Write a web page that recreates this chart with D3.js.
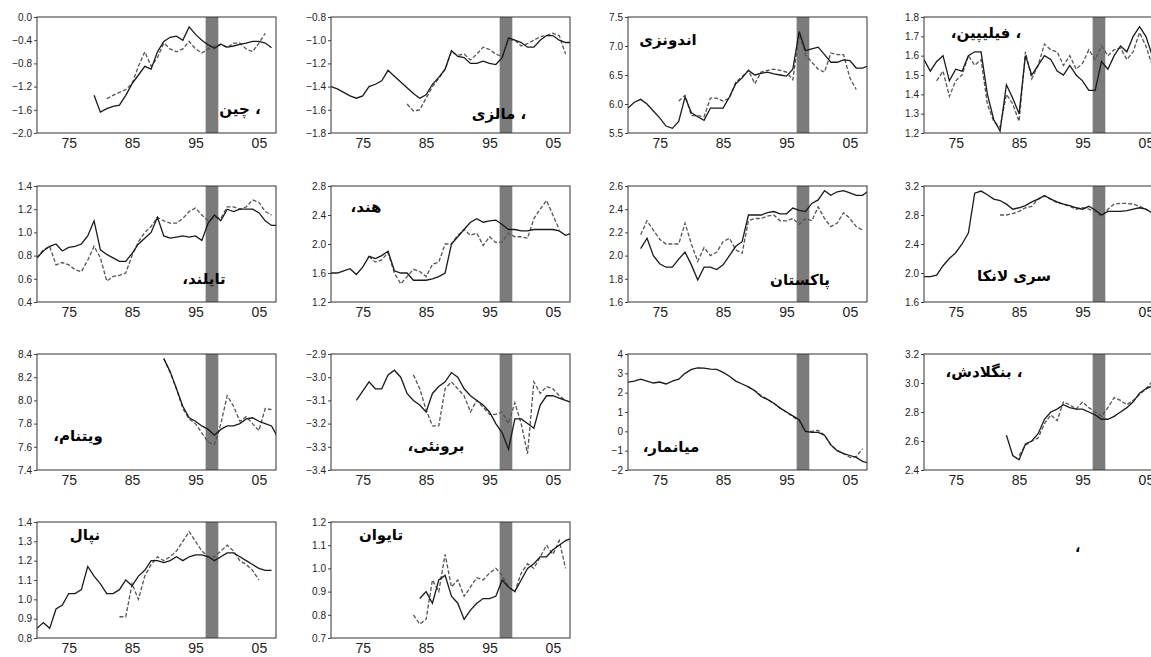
<!DOCTYPE html>
<html>
<head>
<meta charset="utf-8">
<script src="https://cdn.jsdelivr.net/npm/d3@7"></script>
<style>
  body { margin: 0; background: #fff; }
  svg { display: block; }
</style>
</head>
<body>
<svg id="chart" width="1151" height="657"></svg>
<script>
// country labels (as printed in the figure)
const labels = [
  '، چین', '، مالزی', 'اندونزی', '، فیلیپین،',
  'تایلند،', 'هند،', 'پاکستان', 'سری لانکا',
  'ویتنام،', 'برونئی،', 'میانمار،', '، بنگلادش،',
  'نپال', 'تایوان'];

const yDomains = [
  [-2.0, 0.0], [-1.8, -0.8], [5.5, 7.5], [1.2, 1.8],
  [0.4, 1.4], [1.2, 2.8], [1.6, 2.6], [1.6, 3.2],
  [7.4, 8.4], [-3.4, -2.9], [-2, 4], [2.4, 3.2],
  [0.8, 1.4], [0.7, 1.2]];
const yStep = [0.4, 0.2, 0.5, 0.1, 0.2, 0.4, 0.2, 0.4, 0.2, 0.1, 1, 0.2, 0.1, 0.1];
const yFormat = ['.1f', '.1f', '.1f', '.1f', '.1f', '.1f', '.1f', '.1f', '.1f', '.1f', 'd', '.1f', '.1f', '.1f'];

const xTicks = [1975, 1985, 1995, 2005];
const crisis = [1996.6, 1998.6];

// first year of each series
const solidStart = [1979, 1970, 1970, 1970, 1970, 1970, 1972, 1970, 1990, 1974, 1970, 1983, 1970, 1984];
const dashedStart = [1981, 1982, 1978, 1972, 1970, 1976, 1972, 1982, 1990, 1983, 1989, 1985, 1983, 1983];

const chinaSolid = [-1.35, -1.64, -1.58, -1.54, -1.52, -1.35, -1.15, -1.0, -0.85, -0.9, -0.6, -0.42, -0.35, -0.33,
  -0.4, -0.17, -0.3, -0.4, -0.48, -0.54, -0.47, -0.52, -0.5, -0.47, -0.45, -0.42, -0.42, -0.45, -0.53];
const chinaDashed = [-1.41, -1.35, -1.3, -1.25, -1.15, -0.85, -0.6, -0.85, -0.7, -0.45, -0.55, -0.6, -0.55, -0.42,
  -0.55, -0.62, -0.55, -0.5, -0.47, -0.53, -0.45, -0.45, -0.55, -0.6, -0.45, -0.28];

const malaysiaSolid = [-1.4, -1.42, -1.45, -1.48, -1.5, -1.48, -1.4, -1.38, -1.35, -1.26, -1.31, -1.36, -1.41,
  -1.46, -1.5, -1.47, -1.38, -1.32, -1.25, -1.09, -1.14, -1.15, -1.2, -1.2, -1.18, -1.2, -1.21, -1.15, -0.98,
  -1.0, -1.02, -1.06, -1.06, -1.0, -0.96, -0.96, -1.0, -1.02, -1.02];
const malaysiaDashed = [-1.55, -1.61, -1.6, -1.5, -1.4, -1.33, -1.25, -1.1, -1.13, -1.12, -1.17, -1.12, -1.06,
  -1.08, -1.12, -1.14, -1.0, -1.0, -1.05, -1.03, -1.0, -0.97, -0.96, -0.94, -0.96, -1.12];

const indonesiaSolid = [5.93, 6.03, 6.08, 6.0, 5.88, 5.76, 5.62, 5.58, 5.7, 6.12, 5.85, 5.78, 5.72, 5.93, 5.93,
  5.93, 6.12, 6.35, 6.45, 6.58, 6.5, 6.53, 6.55, 6.52, 6.5, 6.48, 6.6, 7.25, 6.92, 6.95, 6.98, 6.85, 6.72,
  6.72, 6.76, 6.75, 6.62, 6.62, 6.66];
const indonesiaDashed = [6.05, 6.15, 5.8, 5.8, 5.78, 6.1, 6.1, 6.05, 6.1, 6.38, 6.47, 6.58, 6.35, 6.55, 6.58,
  6.6, 6.58, 6.55, 6.42, 7.2, 6.85, 6.72, 6.6, 6.55, 6.88, 6.85, 6.85, 6.45, 6.25];

const philippinesSolid = [1.58, 1.52, 1.57, 1.6, 1.47, 1.53, 1.52, 1.6, 1.62, 1.62, 1.4, 1.27, 1.21, 1.45,
  1.38, 1.3, 1.6, 1.5, 1.55, 1.6, 1.58, 1.52, 1.5, 1.55, 1.5, 1.47, 1.42, 1.42, 1.57, 1.53, 1.6, 1.65, 1.62,
  1.7, 1.75, 1.7, 1.6, 1.52];
const philippinesDashed = [1.47, 1.52, 1.39, 1.47, 1.5, 1.6, 1.55, 1.58, 1.35, 1.26, 1.23, 1.4, 1.35, 1.26,
  1.62, 1.48, 1.55, 1.66, 1.63, 1.62, 1.55, 1.6, 1.53, 1.56, 1.63, 1.58, 1.65, 1.6, 1.63, 1.64, 1.58, 1.62,
  1.72, 1.65, 1.55, 1.52];

const thailandSolid = [0.78, 0.84, 0.88, 0.9, 0.84, 0.87, 0.88, 0.9, 0.97, 1.1, 0.85, 0.81, 0.78, 0.75, 0.75,
  0.82, 0.9, 0.95, 1.0, 1.13, 0.97, 0.95, 0.96, 0.97, 0.96, 0.97, 0.93, 1.08, 1.15, 1.1, 1.2, 1.18, 1.2, 1.2,
  1.2, 1.17, 1.1, 1.06, 1.06];
const thailandDashed = [0.78, 0.85, 0.88, 0.72, 0.74, 0.72, 0.68, 0.66, 0.76, 0.88, 0.78, 0.58, 0.62, 0.63,
  0.65, 0.8, 0.92, 1.0, 1.05, 1.13, 1.1, 1.08, 1.08, 1.12, 1.18, 1.21, 1.15, 1.1, 1.13, 1.12, 1.22, 1.22,
  1.2, 1.22, 1.28, 1.26, 1.18, 1.15];

const indiaSolid = [1.6, 1.6, 1.63, 1.66, 1.58, 1.68, 1.83, 1.8, 1.84, 1.9, 1.63, 1.6, 1.6, 1.5, 1.5, 1.5,
  1.52, 1.55, 1.6, 2.0, 2.1, 2.2, 2.3, 2.35, 2.3, 2.32, 2.33, 2.27, 2.2, 2.2, 2.18, 2.18, 2.2, 2.2, 2.2, 2.2,
  2.18, 2.12, 2.15];
const indiaDashed = [1.83, 1.75, 1.78, 1.88, 1.6, 1.45, 1.55, 1.65, 1.62, 1.55, 1.72, 1.75, 2.0, 2.0, 2.12,
  2.2, 2.12, 2.15, 1.98, 2.1, 2.02, 2.03, 2.15, 2.1, 2.1, 2.08, 2.35, 2.48, 2.6, 2.4, 2.2];

const pakistanSolid = [2.06, 2.15, 2.0, 1.93, 1.9, 1.9, 1.97, 2.03, 1.92, 1.79, 1.9, 1.9, 1.88, 1.92, 2.0,
  2.08, 2.12, 2.35, 2.35, 2.35, 2.37, 2.38, 2.36, 2.36, 2.41, 2.39, 2.38, 2.45, 2.48, 2.56, 2.52, 2.55, 2.56,
  2.54, 2.52, 2.52, 2.56];
const pakistanDashed = [2.18, 2.3, 2.22, 2.14, 2.1, 2.1, 2.1, 2.28, 2.1, 1.95, 2.07, 2.0, 2.03, 2.12, 2.15,
  2.05, 2.02, 2.3, 2.32, 2.32, 2.34, 2.35, 2.3, 2.3, 2.32, 2.27, 2.32, 2.3, 2.42, 2.32, 2.25, 2.28, 2.37,
  2.32, 2.25, 2.22];

const sriLankaSolid = [1.95, 1.95, 1.97, 2.1, 2.2, 2.28, 2.4, 2.55, 3.1, 3.13, 3.08, 3.02, 3.0, 2.95, 2.88,
  2.9, 2.93, 2.98, 3.02, 3.07, 3.02, 2.98, 2.95, 2.93, 2.9, 2.88, 2.92, 2.87, 2.8, 2.85, 2.85, 2.85, 2.86,
  2.88, 2.9, 2.88, 2.83, 2.8];
const sriLankaDashed = [2.8, 2.8, 2.82, 2.85, 2.9, 2.92, 3.02, 3.06, 3.02, 2.97, 2.95, 2.92, 2.88, 2.9, 2.88,
  2.85, 2.78, 2.88, 2.95, 2.96, 2.96, 2.95, 2.92, 2.88, 2.82, 2.8];

const vietnamSolid = [8.36, 8.25, 8.1, 7.95, 7.85, 7.82, 7.78, 7.75, 7.7, 7.75, 7.78, 7.78, 7.8, 7.84, 7.85,
  7.82, 7.8, 7.78, 7.68];
const vietnamDashed = [8.36, 8.24, 8.1, 7.93, 7.84, 7.8, 7.72, 7.64, 7.62, 7.8, 8.04, 7.95, 7.82, 7.86, 7.8,
  7.74, 7.93, 7.92];

const bruneiSolid = [-3.1, -3.06, -3.02, -3.05, -3.05, -2.99, -2.97, -3.0, -3.07, -3.1, -3.12, -3.15, -3.07,
  -3.04, -3.02, -2.98, -3.0, -3.05, -3.08, -3.1, -3.12, -3.15, -3.2, -3.24, -3.31, -3.18, -3.18, -3.2, -3.22,
  -3.12, -3.08, -3.08, -3.09, -3.1, -3.11];
const bruneiDashed = [-2.99, -3.05, -3.14, -3.21, -3.21, -3.05, -3.02, -3.05, -3.08, -3.15, -3.1, -3.13, -3.16,
  -3.16, -3.15, -3.2, -3.11, -3.2, -3.33, -3.02, -3.07, -3.04, -3.05, -3.08, -3.1];

const myanmarSolid = [2.55, 2.6, 2.7, 2.6, 2.5, 2.55, 2.45, 2.6, 2.7, 3.0, 3.2, 3.28, 3.27, 3.22, 3.2, 3.05,
  2.85, 2.6, 2.45, 2.3, 2.1, 1.8, 1.65, 1.45, 1.2, 1.0, 0.8, 0.6, 0.0, -0.05, -0.05, -0.2, -0.7, -1.0, -1.15,
  -1.25, -1.35, -1.55, -1.65];
const myanmarDashed = [2.3, 2.1, 1.85, 1.65, 1.45, 1.2, 1.0, 0.75, 0.55, 0.0, 0.0, 0.05, -0.2, -0.7, -1.0,
  -1.15, -1.35, -1.3, -0.9];

const bangladeshSolid = [2.64, 2.5, 2.47, 2.58, 2.6, 2.65, 2.75, 2.8, 2.82, 2.85, 2.83, 2.82, 2.82, 2.8, 2.78,
  2.75, 2.75, 2.77, 2.8, 2.83, 2.87, 2.93, 2.96, 2.98, 3.0];
const bangladeshDashed = [2.5, 2.57, 2.6, 2.62, 2.72, 2.78, 2.74, 2.87, 2.85, 2.82, 2.87, 2.83, 2.8, 2.77,
  2.83, 2.9, 2.88, 2.85, 2.88, 2.92, 2.96, 3.01, 2.96];

const nepalSolid = [0.85, 0.88, 0.85, 0.95, 0.97, 1.03, 1.03, 1.05, 1.17, 1.12, 1.08, 1.03, 1.03, 1.05, 1.1,
  1.07, 1.12, 1.15, 1.2, 1.2, 1.19, 1.2, 1.22, 1.2, 1.22, 1.23, 1.23, 1.22, 1.2, 1.22, 1.24, 1.24, 1.22, 1.2,
  1.18, 1.16, 1.15, 1.15];
const nepalDashed = [0.91, 0.91, 1.08, 1.0, 1.12, 1.18, 1.22, 1.2, 1.22, 1.25, 1.3, 1.35, 1.3, 1.25, 1.22,
  1.22, 1.25, 1.28, 1.25, 1.2, 1.18, 1.15, 1.1];

const taiwanSolid = [0.87, 0.9, 0.85, 0.95, 0.97, 0.88, 0.85, 0.78, 0.82, 0.85, 0.87, 0.87, 0.88, 0.95, 0.92,
  0.9, 0.95, 1.0, 1.02, 1.05, 1.05, 1.08, 1.1, 1.12, 1.13];
const taiwanDashed = [0.8, 0.76, 0.78, 0.95, 0.9, 1.06, 0.92, 0.95, 0.88, 0.92, 0.96, 0.95, 0.98, 1.0, 0.97,
  0.92, 0.9, 0.98, 1.02, 1.0, 1.05, 1.1, 1.06, 1.12, 1.0];

const solidValues = [chinaSolid, malaysiaSolid, indonesiaSolid, philippinesSolid, thailandSolid, indiaSolid,
  pakistanSolid, sriLankaSolid, vietnamSolid, bruneiSolid, myanmarSolid, bangladeshSolid, nepalSolid, taiwanSolid];
const dashedValues = [chinaDashed, malaysiaDashed, indonesiaDashed, philippinesDashed, thailandDashed, indiaDashed,
  pakistanDashed, sriLankaDashed, vietnamDashed, bruneiDashed, myanmarDashed, bangladeshDashed, nepalDashed, taiwanDashed];

// layout
const colX = [37, 331, 628, 924];
const rowY = [17, 186, 354, 522];
const pw = 239, ph = 116;
// label centre, relative to the panel's plot area
const labelAt = [
  [203, 97], [168, 102], [40, 28], [62, 21],
  [167, 98], [35, 26], [172, 99], [90, 95],
  [41, 87], [105, 97], [43, 98], [60, 23],
  [48, 18], [50, 18]];

const svg = d3.select('#chart');
const x = d3.scaleLinear().domain([1970, 2007.7]).range([0, pw]);

labels.forEach((name, i) => {
  const g = svg.append('g')
    .attr('transform', `translate(${colX[i % 4]},${rowY[Math.floor(i / 4)]})`);
  const [y0, y1] = yDomains[i];
  const y = d3.scaleLinear().domain([y0, y1]).range([ph, 0]);

  g.append('clipPath').attr('id', `clip${i}`)
    .append('rect').attr('width', pw).attr('height', ph);

  g.append('rect')
    .attr('x', x(crisis[0]))
    .attr('width', x(crisis[1]) - x(crisis[0]))
    .attr('height', ph)
    .attr('fill', '#7b7b7b');

  const line = d3.line()
    .x(d => x(d.year))
    .y(d => y(d.v));

  const series = (vals, start) => vals.map((v, k) => ({ year: start + k, v }));

  const plot = g.append('g').attr('clip-path', `url(#clip${i})`);

  plot.append('path')
    .datum(series(dashedValues[i], dashedStart[i]))
    .attr('fill', 'none')
    .attr('stroke', '#555')
    .attr('stroke-width', 1.3)
    .attr('stroke-dasharray', '4,2')
    .attr('d', line);

  plot.append('path')
    .datum(series(solidValues[i], solidStart[i]))
    .attr('fill', 'none')
    .attr('stroke', '#1a1a1a')
    .attr('stroke-width', 1.3)
    .attr('d', line);

  const yTicks = d3.range(y0, y1 + yStep[i] / 2, yStep[i]);
  const yAxis = g.append('g')
    .call(d3.axisLeft(y).tickValues(yTicks).tickFormat(d3.format(yFormat[i])).tickSize(3).tickPadding(2));
  yAxis.select('.domain').remove();
  yAxis.selectAll('line').attr('stroke', '#444');
  yAxis.selectAll('text')
    .attr('font-family', 'Liberation Sans, Arial, sans-serif')
    .attr('font-size', 10)
    .attr('fill', '#222');

  const xAxis = g.append('g')
    .attr('transform', `translate(0,${ph})`)
    .call(d3.axisBottom(x).tickValues(xTicks).tickFormat(d => String(d).slice(2)).tickSize(0).tickPadding(5));
  xAxis.select('.domain').remove();
  xAxis.selectAll('text')
    .attr('font-family', 'Liberation Sans, Arial, sans-serif')
    .attr('font-size', 14)
    .attr('fill', '#222');

  g.append('rect')
    .attr('width', pw)
    .attr('height', ph)
    .attr('fill', 'none')
    .attr('stroke', '#333')
    .attr('stroke-width', 1);

  g.append('text')
    .attr('x', labelAt[i][0])
    .attr('y', labelAt[i][1])
    .attr('direction', 'rtl')
    .attr('text-anchor', 'middle')
    .attr('font-family', 'DejaVu Sans, sans-serif')
    .attr('font-weight', 'bold')
    .attr('font-size', 15)
    .attr('fill', '#000')
    .text(name);
});

// stray comma in the empty corner
svg.append('text')
  .attr('x', 1075)
  .attr('y', 552)
  .attr('font-family', 'DejaVu Sans, sans-serif')
  .attr('font-weight', 'bold')
  .attr('font-size', 14)
  .text('،');
</script>
</body>
</html>
